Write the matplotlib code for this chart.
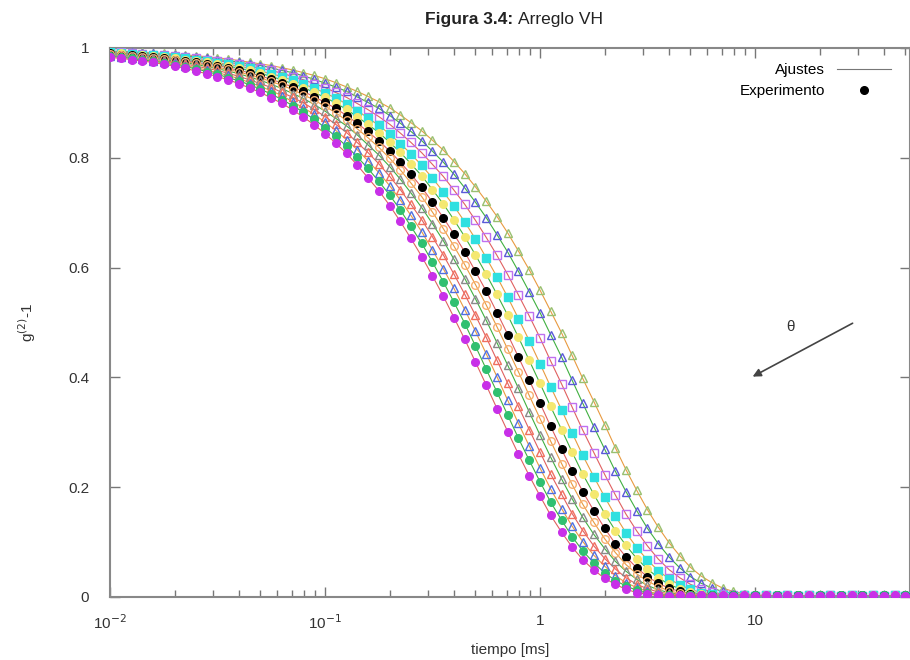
import matplotlib.pyplot as plt
from matplotlib.lines import Line2D
from matplotlib.ticker import FixedLocator, NullFormatter

# tiempo de correlacion [ms]
tiempo = [0.0100, 0.0112, 0.0126, 0.0141, 0.0158, 0.0178, 0.0200, 0.0224, 0.0251, 0.0282,
          0.0316, 0.0355, 0.0398, 0.0447, 0.0501, 0.0562, 0.0631, 0.0708, 0.0794, 0.0891,
          0.100, 0.112, 0.126, 0.141, 0.158, 0.178, 0.200, 0.224, 0.251, 0.282,
          0.316, 0.355, 0.398, 0.447, 0.501, 0.562, 0.631, 0.708, 0.794, 0.891,
          1.00, 1.12, 1.26, 1.41, 1.58, 1.78, 2.00, 2.24, 2.51, 2.82,
          3.16, 3.55, 3.98, 4.47, 5.01, 5.62, 6.31, 7.08, 7.94, 8.91,
          10.0, 11.2, 12.6, 14.1, 15.8, 17.8, 20.0, 22.4, 25.1, 28.2,
          31.6, 35.5, 39.8, 44.7, 50.1]

# g2-1 para cada angulo (de la curva mas rapida a la mas lenta)
g_magenta = [0.983, 0.981, 0.979, 0.976, 0.974, 0.970, 0.967, 0.963, 0.958, 0.953,
             0.948, 0.942, 0.935, 0.927, 0.919, 0.909, 0.899, 0.887, 0.874, 0.860,
             0.844, 0.827, 0.808, 0.787, 0.764, 0.740, 0.713, 0.684, 0.653, 0.620,
             0.585, 0.548, 0.509, 0.469, 0.428, 0.386, 0.343, 0.301, 0.260, 0.221,
             0.184, 0.149, 0.118, 0.091, 0.068, 0.049, 0.034, 0.023, 0.014, 0.008,
             0.005, 0.003, 0.002, 0.003, 0.002, 0.003, 0.002, 0.003, 0.002, 0.003,
             0.002, 0.003, 0.002, 0.003, 0.002, 0.003, 0.002, 0.003, 0.002, 0.003,
             0.002, 0.003, 0.002, 0.003, 0.002]
g_verde = [0.985, 0.983, 0.981, 0.978, 0.976, 0.973, 0.969, 0.966, 0.962, 0.957,
           0.952, 0.946, 0.940, 0.933, 0.925, 0.916, 0.906, 0.895, 0.883, 0.870,
           0.855, 0.839, 0.821, 0.802, 0.781, 0.757, 0.732, 0.705, 0.675, 0.644,
           0.610, 0.574, 0.537, 0.498, 0.457, 0.415, 0.373, 0.331, 0.289, 0.249,
           0.210, 0.173, 0.140, 0.110, 0.084, 0.062, 0.044, 0.030, 0.020, 0.012,
           0.007, 0.004, 0.003, 0.002, 0.003, 0.002, 0.003, 0.002, 0.003, 0.002,
           0.003, 0.002, 0.003, 0.002, 0.003, 0.002, 0.003, 0.002, 0.003, 0.002,
           0.003, 0.002, 0.003, 0.002, 0.003]
g_azul = [0.986, 0.984, 0.982, 0.980, 0.977, 0.975, 0.972, 0.968, 0.964, 0.960,
          0.955, 0.950, 0.944, 0.937, 0.930, 0.922, 0.913, 0.902, 0.891, 0.879,
          0.865, 0.850, 0.833, 0.815, 0.795, 0.773, 0.749, 0.723, 0.695, 0.665,
          0.632, 0.598, 0.562, 0.523, 0.484, 0.443, 0.401, 0.358, 0.316, 0.275,
          0.235, 0.197, 0.161, 0.129, 0.101, 0.076, 0.056, 0.039, 0.026, 0.017,
          0.010, 0.006, 0.004, 0.003, 0.002, 0.003, 0.002, 0.003, 0.002, 0.003,
          0.002, 0.003, 0.002, 0.003, 0.002, 0.003, 0.002, 0.003, 0.002, 0.003,
          0.002, 0.003, 0.002, 0.003, 0.002]
g_rojo = [0.987, 0.985, 0.983, 0.981, 0.979, 0.977, 0.974, 0.971, 0.967, 0.963,
          0.959, 0.954, 0.948, 0.942, 0.935, 0.928, 0.919, 0.910, 0.900, 0.888,
          0.875, 0.861, 0.846, 0.828, 0.810, 0.789, 0.766, 0.742, 0.715, 0.687,
          0.656, 0.623, 0.588, 0.551, 0.513, 0.473, 0.431, 0.389, 0.347, 0.305,
          0.264, 0.224, 0.187, 0.152, 0.121, 0.093, 0.070, 0.051, 0.035, 0.023,
          0.015, 0.009, 0.006, 0.004, 0.003, 0.002, 0.003, 0.002, 0.003, 0.002,
          0.003, 0.002, 0.003, 0.002, 0.003, 0.002, 0.003, 0.002, 0.003, 0.002,
          0.003, 0.002, 0.003, 0.002, 0.003]
g_gris = [0.988, 0.986, 0.985, 0.983, 0.981, 0.979, 0.976, 0.973, 0.970, 0.966,
          0.962, 0.958, 0.953, 0.947, 0.941, 0.934, 0.926, 0.917, 0.908, 0.897,
          0.885, 0.872, 0.858, 0.842, 0.824, 0.805, 0.784, 0.761, 0.736, 0.709,
          0.680, 0.649, 0.615, 0.580, 0.543, 0.504, 0.463, 0.422, 0.380, 0.337,
          0.295, 0.255, 0.215, 0.179, 0.145, 0.114, 0.088, 0.065, 0.047, 0.032,
          0.021, 0.013, 0.008, 0.004, 0.003, 0.002, 0.003, 0.002, 0.003, 0.002,
          0.003, 0.002, 0.003, 0.002, 0.003, 0.002, 0.003, 0.002, 0.003, 0.002,
          0.003, 0.002, 0.003, 0.002, 0.003]
g_naranja = [0.989, 0.988, 0.986, 0.984, 0.982, 0.980, 0.978, 0.975, 0.972, 0.969,
             0.965, 0.961, 0.956, 0.951, 0.945, 0.939, 0.932, 0.924, 0.915, 0.905,
             0.894, 0.882, 0.868, 0.853, 0.837, 0.819, 0.799, 0.778, 0.754, 0.729,
             0.701, 0.671, 0.639, 0.605, 0.569, 0.532, 0.492, 0.451, 0.410, 0.367,
             0.325, 0.284, 0.243, 0.205, 0.169, 0.136, 0.106, 0.081, 0.059, 0.042,
             0.029, 0.019, 0.011, 0.007, 0.004, 0.003, 0.002, 0.003, 0.002, 0.003,
             0.002, 0.003, 0.002, 0.003, 0.002, 0.003, 0.002, 0.003, 0.002, 0.003,
             0.002, 0.003, 0.002, 0.003, 0.002]
g_negro = [0.990, 0.988, 0.987, 0.985, 0.984, 0.982, 0.979, 0.977, 0.974, 0.971,
           0.968, 0.964, 0.959, 0.955, 0.949, 0.943, 0.936, 0.929, 0.921, 0.911,
           0.901, 0.890, 0.877, 0.863, 0.848, 0.831, 0.812, 0.792, 0.770, 0.746,
           0.719, 0.691, 0.661, 0.628, 0.593, 0.557, 0.518, 0.478, 0.437, 0.395,
           0.353, 0.311, 0.269, 0.230, 0.192, 0.157, 0.125, 0.097, 0.073, 0.053,
           0.037, 0.025, 0.016, 0.010, 0.006, 0.004, 0.003, 0.002, 0.003, 0.002,
           0.003, 0.002, 0.003, 0.002, 0.003, 0.002, 0.003, 0.002, 0.003, 0.002,
           0.003, 0.002, 0.003, 0.002, 0.003]
g_amarillo = [0.991, 0.990, 0.988, 0.987, 0.985, 0.983, 0.981, 0.979, 0.977, 0.974,
              0.971, 0.967, 0.963, 0.959, 0.954, 0.948, 0.942, 0.935, 0.928, 0.919,
              0.910, 0.900, 0.888, 0.875, 0.861, 0.846, 0.828, 0.810, 0.789, 0.767,
              0.742, 0.716, 0.687, 0.656, 0.623, 0.588, 0.551, 0.513, 0.473, 0.431,
              0.389, 0.347, 0.305, 0.264, 0.224, 0.187, 0.152, 0.121, 0.094, 0.070,
              0.051, 0.035, 0.023, 0.015, 0.009, 0.005, 0.004, 0.003, 0.002, 0.003,
              0.002, 0.003, 0.002, 0.003, 0.002, 0.003, 0.002, 0.003, 0.002, 0.003,
              0.002, 0.003, 0.002, 0.003, 0.002]
g_cian = [0.992, 0.991, 0.989, 0.988, 0.987, 0.985, 0.983, 0.981, 0.979, 0.976,
          0.973, 0.970, 0.967, 0.963, 0.958, 0.953, 0.948, 0.941, 0.934, 0.927,
          0.918, 0.909, 0.898, 0.886, 0.873, 0.859, 0.843, 0.826, 0.807, 0.786,
          0.763, 0.738, 0.712, 0.683, 0.652, 0.618, 0.583, 0.546, 0.507, 0.467,
          0.425, 0.383, 0.341, 0.299, 0.258, 0.219, 0.182, 0.148, 0.117, 0.090,
          0.067, 0.048, 0.033, 0.022, 0.014, 0.008, 0.005, 0.003, 0.002, 0.003,
          0.002, 0.003, 0.002, 0.003, 0.002, 0.003, 0.002, 0.003, 0.002, 0.003,
          0.002, 0.003, 0.002, 0.003, 0.002]
g_violeta = [0.993, 0.992, 0.991, 0.989, 0.988, 0.987, 0.985, 0.983, 0.981, 0.979,
             0.977, 0.974, 0.971, 0.967, 0.963, 0.959, 0.954, 0.948, 0.942, 0.935,
             0.928, 0.919, 0.910, 0.899, 0.888, 0.875, 0.861, 0.845, 0.828, 0.809,
             0.788, 0.766, 0.741, 0.715, 0.686, 0.655, 0.622, 0.587, 0.550, 0.512,
             0.472, 0.430, 0.388, 0.346, 0.304, 0.263, 0.223, 0.186, 0.151, 0.120,
             0.093, 0.069, 0.050, 0.035, 0.023, 0.015, 0.009, 0.005, 0.004, 0.003,
             0.002, 0.003, 0.002, 0.003, 0.002, 0.003, 0.002, 0.003, 0.002, 0.003,
             0.002, 0.003, 0.002, 0.003, 0.002]
g_azul2 = [0.993, 0.993, 0.992, 0.991, 0.990, 0.988, 0.987, 0.985, 0.984, 0.982,
           0.979, 0.977, 0.974, 0.971, 0.968, 0.964, 0.959, 0.955, 0.949, 0.943,
           0.936, 0.929, 0.921, 0.911, 0.901, 0.890, 0.877, 0.863, 0.848, 0.831,
           0.812, 0.792, 0.770, 0.745, 0.719, 0.691, 0.660, 0.628, 0.593, 0.556,
           0.518, 0.478, 0.437, 0.395, 0.353, 0.310, 0.269, 0.229, 0.192, 0.157,
           0.125, 0.097, 0.073, 0.053, 0.037, 0.025, 0.016, 0.010, 0.006, 0.004,
           0.003, 0.002, 0.003, 0.002, 0.003, 0.002, 0.003, 0.002, 0.003, 0.002,
           0.003, 0.002, 0.003, 0.002, 0.003]
g_oliva = [0.994, 0.994, 0.993, 0.992, 0.991, 0.990, 0.989, 0.987, 0.986, 0.984,
           0.982, 0.980, 0.977, 0.974, 0.971, 0.968, 0.964, 0.960, 0.955, 0.950,
           0.944, 0.937, 0.929, 0.921, 0.912, 0.902, 0.891, 0.878, 0.864, 0.849,
           0.832, 0.814, 0.793, 0.771, 0.747, 0.721, 0.693, 0.663, 0.630, 0.596,
           0.559, 0.521, 0.481, 0.440, 0.398, 0.356, 0.314, 0.272, 0.232, 0.194,
           0.159, 0.127, 0.099, 0.075, 0.054, 0.038, 0.026, 0.016, 0.010, 0.006,
           0.004, 0.003, 0.002, 0.003, 0.002, 0.003, 0.002, 0.003, 0.002, 0.003,
           0.002, 0.003, 0.002, 0.003, 0.002]

x_ticks = [0.01, 0.1, 1, 10]
x_ticklabels = [r'10$^{-2}$', r'10$^{-1}$', '1', '10']
y_ticks = [0, 0.2, 0.4, 0.6, 0.8, 1]
y_ticklabels = ['0', '0.2', '0.4', '0.6', '0.8', '1']

# (datos, color marcador, marcador, relleno, color del ajuste)
series = [
    (g_oliva, '#99c070', '^', False, '#e89a40'),
    (g_azul2, '#5a5ad8', '^', False, '#40b040'),
    (g_violeta, '#c070f0', 's', False, '#e06060'),
    (g_cian, '#30e0e0', 's', True, '#e89a40'),
    (g_amarillo, '#f4e870', 'o', True, '#40b040'),
    (g_negro, 'black', 'o', True, '#e06060'),
    (g_naranja, '#f8b070', 'o', False, '#e89a40'),
    (g_gris, '#8a8a8a', '^', False, '#40b040'),
    (g_rojo, '#f07060', '^', False, '#e06060'),
    (g_azul, '#5070e0', '^', False, '#e89a40'),
    (g_verde, '#30c070', 'o', True, '#40b040'),
    (g_magenta, '#c830e8', 'o', True, '#e06060'),
]

plt.rcParams['font.family'] = ['Liberation Sans', 'DejaVu Sans']
fig = plt.figure(figsize=(9.1, 6.6), dpi=100)
ax = fig.add_axes([0.1209, 0.0955, 0.8791, 0.8318])

for datos, color, marker, filled, color_ajuste in series:
    ax.plot(tiempo, datos, color=color_ajuste, linewidth=0.8, zorder=2)
    ax.plot(tiempo, datos, linestyle='none', marker=marker, markersize=5.5,
            markerfacecolor=color if filled else 'none', markeredgecolor=color,
            markeredgewidth=1.0, zorder=3)

ax.set_xscale('log')
ax.set_xlim(0.01, 52.6)
ax.set_ylim(0, 1)

ax.xaxis.set_major_locator(FixedLocator(x_ticks))
ax.set_xticklabels(x_ticklabels)
ax.xaxis.set_minor_locator(FixedLocator([m * d for d in [0.01, 0.1, 1, 10] for m in range(2, 10)]))
ax.xaxis.set_minor_formatter(NullFormatter())
ax.set_yticks(y_ticks)
ax.set_yticklabels(y_ticklabels)

ax.tick_params(which='both', direction='in', top=True, right=True, colors='#777777',
               labelcolor='#333333', labelsize=11, width=1)
ax.tick_params(which='major', length=7)
ax.tick_params(which='minor', length=5)
ax.tick_params(axis='x', which='major', pad=12)
ax.tick_params(axis='y', which='major', pad=15)
for s in ax.spines.values():
    s.set_color('#888888')
    s.set_linewidth(1.5)

ax.set_xlabel('tiempo [ms]', fontsize=11, color='#333333', labelpad=8)
ax.set_ylabel(r'g$^{(2)}$-1', fontsize=11, color='#333333', labelpad=22)

fig.text(0.564, 0.970, 'Figura 3.4:', fontsize=12.5, fontweight='bold', ha='right', va='center',
         color='#222222')
fig.text(0.569, 0.970, 'Arreglo VH', fontsize=12.5, ha='left', va='center', color='#222222')

# flecha theta
ax.annotate('', xy=(9.5, 0.399), xytext=(29.2, 0.501),
            arrowprops=dict(arrowstyle='-|>', color='#444444', lw=1.2, mutation_scale=12))
ax.text(14.6, 0.492, 'θ', fontsize=11, color='#333333', ha='center', va='center')

handles = [Line2D([], [], color='#777777', linewidth=0.8),
           Line2D([], [], linestyle='none', marker='o', color='black', markersize=5.5)]
ax.legend(handles, ['Ajustes', 'Experimento'], loc='upper right', markerfirst=False,
          frameon=False, fontsize=11, handlelength=3.5, borderaxespad=0.6,
          labelspacing=0.45, bbox_to_anchor=(0.995, 1.0))

fig.savefig('out.png', dpi=100)
